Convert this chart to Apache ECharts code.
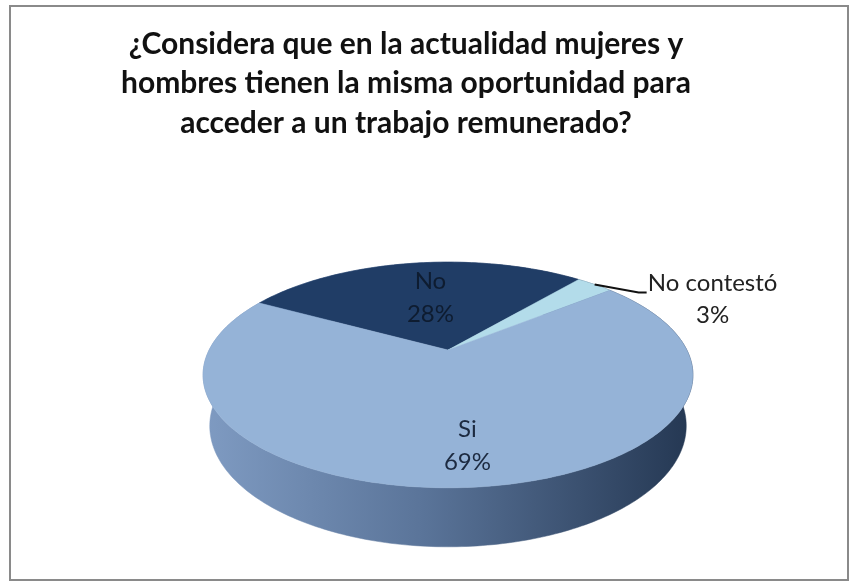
<!DOCTYPE html>
<html><head><meta charset="utf-8">
<script src="https://cdn.jsdelivr.net/npm/echarts@6/dist/echarts.min.js"></script>
<style>html,body{margin:0;padding:0;background:#fff}#c{width:854px;height:586px}</style>
</head><body><div id="c"></div>
<script>
const categories = ['No', 'No contestó', 'Si'];
const values = [28, 3, 69];
const titleLines = ['¿Considera que en la actualidad mujeres y', 'hombres tienen la misma oportunidad para', 'acceder a un trabajo remunerado?'];

const topColors = ['#203d66', '#b3dcea', '#95b3d7'];
const START_DEG = -61;           // first slice angle, clockwise from 12 o'clock
const A = 26.7 * Math.PI / 180, DIST = 4.04, H = DIST * Math.sin(A), D = DIST * Math.cos(A);
const K = 965, CX = 448, CY = 350, THICK = 0.24;

function proj(tDeg, r, Y) {
  const th = tDeg * Math.PI / 180;
  const X = r * Math.sin(th), Z = r * Math.cos(th);
  const dep = (-(Y - H) * H + (Z + D) * D) / DIST;
  const up = ((Y - H) * D + (Z + D) * H) / DIST;
  return [CX + K * X / dep, CY - K * up / dep];
}
const total = values.reduce((a, b) => a + b, 0);
const angles = [];
let acc = START_DEG;
values.forEach(v => { const a0 = acc; acc += v / total * 360; angles.push([a0, acc]); });

function arc(a0, a1, r, Y) {
  const pts = []; const n = Math.max(2, Math.ceil(Math.abs(a1 - a0)));
  for (let i = 0; i <= n; i++) pts.push(proj(a0 + (a1 - a0) * i / n, r, Y));
  return pts;
}
const wallGrad = new echarts.graphic.LinearGradient(203, 0, 693, 0, [
  { offset: 0, color: '#7f9bc2' }, { offset: 0.45, color: '#5a7499' }, { offset: 1, color: '#243752' }
], true);
const FONT = 'Lato, "Open Sans", sans-serif';

const chart = echarts.init(document.getElementById('c'), null, { renderer: 'canvas' });
chart.setOption({
  backgroundColor: '#ffffff',
  animation: false,
  graphic: [
    { type: 'rect', shape: { x: 10, y: 6, width: 838, height: 574 }, style: { fill: 'none', stroke: '#8a8a8a', lineWidth: 2 }, z: 0 }
  ].concat(titleLines.map((t, i) => ({
    type: 'text', x: 406, y: 44 + i * 39.5, z: 10,
    style: { text: t, fill: '#111', font: 'bold 30px ' + FONT, textAlign: 'center', textVerticalAlign: 'middle', align: 'center', verticalAlign: 'middle' }
  }))),
  series: [
    {
      type: 'custom', coordinateSystem: 'none', z: 1, data: values,
      renderItem: function (params) {
        const [a0, a1] = angles[params.dataIndex];
        const pts = arc(a0, a1, 1, 0).concat(arc(a1, a0, 1, -THICK));
        return { type: 'polygon', shape: { points: pts }, style: { fill: wallGrad, stroke: wallGrad, lineWidth: 0.5 } };
      }
    },
    {
      type: 'custom', coordinateSystem: 'none', z: 2, data: values,
      renderItem: function (params) {
        const i = params.dataIndex;
        const [a0, a1] = angles[i];
        const pts = [proj(0, 0, 0)].concat(arc(a0, a1, 1, 0));
        const children = [{ type: 'polygon', shape: { points: pts }, style: { fill: topColors[i], stroke: topColors[i], lineWidth: 0.5 } }];
        const mid = (a0 + a1) / 2;
        const txt = categories[i] + '\n' + values[i] + '%';
        if (values[i] < 10) {
          const p = proj(mid, 1, 0);
          const q = [p[0] + 44, p[1] + 8];
          children.push({ type: 'polyline', shape: { points: [p, q, [q[0] + 8, q[1]]] }, style: { stroke: '#111', lineWidth: 2, fill: 'none' } });
          children.push({ type: 'text', x: q[0] + 74, y: q[1] + 7, style: { text: txt, fill: '#222', font: '24px ' + FONT, lineHeight: 32, textAlign: 'center', textVerticalAlign: 'middle', align: 'center', verticalAlign: 'middle' } });
        } else {
          const r = values[i] > 50 ? 0.75 : 0.55;
          const p = proj(mid, r, 0);
          const dark = i === 0;
          children.push({ type: 'text', x: p[0] + (dark ? 4 : 0), y: p[1], style: { text: txt, fill: dark ? '#0e1c30' : '#1c2a40', font: '24px ' + FONT, lineHeight: 33, textAlign: 'center', textVerticalAlign: 'middle', align: 'center', verticalAlign: 'middle' } });
        }
        return { type: 'group', children: children };
      }
    }
  ]
});
</script></body></html>
